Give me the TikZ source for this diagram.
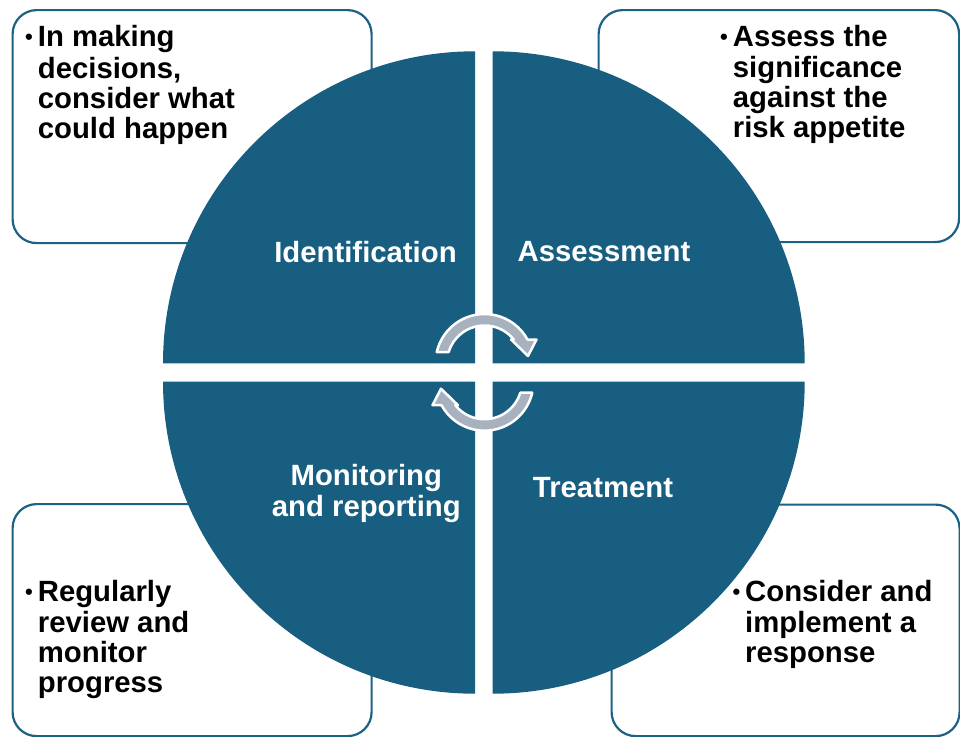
\documentclass[tikz,border=0pt]{standalone}
\usepackage{fontspec}
\setmainfont{Liberation Sans}
\definecolor{quad}{RGB}{23,94,128}
\definecolor{edge}{RGB}{28,98,132}
\definecolor{arrowgray}{RGB}{168,178,190}
\newcommand\bul{\llap{\raisebox{2pt}{\fontsize{22}{30}\selectfont\textbullet}\hspace{5pt}}}

\begin{document}
\begin{tikzpicture}[x=1pt,y=-1pt,
  panel/.style={draw=edge, line width=2.2pt, rounded corners=24pt, inner sep=0pt, anchor=north west},
  quarter/.style={fill=quad},
  note/.style={anchor=north west, inner sep=0pt, align=left, text=black,
    font=\bfseries\fontsize{29.3}{30}\selectfont},
  stage/.style={anchor=north, inner sep=0pt, align=center, text=white,
    font=\bfseries\fontsize{29.3}{30}\selectfont},
  cyclearrow/.style={fill=arrowgray, draw=white, line width=2.5pt, line join=round}]

% page frame
\fill[white] (0,0) rectangle (960,736);
\useasboundingbox (0,0) rectangle (960,736);

% outlined note panels in the four corners
\node[panel, minimum width=359pt, minimum height=233pt] (idpanel) at (11.5,9) {};
\node[panel, minimum width=360.5pt, minimum height=232pt] (aspanel) at (597.5,9) {};
\node[panel, minimum width=359pt, minimum height=232pt] (mopanel) at (11.5,503) {};
\node[panel, minimum width=348pt, minimum height=231.5pt] (trpanel) at (610.5,503.5) {};

% four quarter discs of the cycle
\fill[quarter] (475,363.3) -- (163,363.3) arc[start angle=180, end angle=270, radius=312] -- cycle;
\fill[quarter] (492.7,363.3) -- (804.7,363.3) arc[start angle=0, end angle=-90, radius=312] -- cycle;
\fill[quarter] (475,381.7) -- (163,381.7) arc[start angle=180, end angle=90, radius=312] -- cycle;
\fill[quarter] (492.7,381.7) -- (804.7,381.7) arc[start angle=0, end angle=90, radius=312] -- cycle;

% stage names
\node[stage] (ident) at (365.5,240.7) {\strut Identification};
\node[stage] (assess) at (604,240.7) {\strut Assessment};
\node[stage] (monitor) at (366.3,464) {\strut Monitoring\\and reporting};
\node[stage] (treat) at (603,476.3) {\strut Treatment};

% notes
\node[note] (idnote) at (37.7,25.5) {\strut\bul In making\\decisions,\\consider what\\could happen};
\node[note] (asnote) at (732.7,24.7) {\strut\bul Assess the\\significance\\against the\\risk appetite};
\node[note] (monote) at (37.7,580) {\strut\bul Regularly\\review and\\monitor\\progress};
\node[note] (trnote) at (745,579.7) {\strut\bul Consider and\\implement a\\response};

% circular arrows in the middle
\begin{scope}[shift={(484.5,363)}, yscale=-1]
  \draw[cyclearrow] (167.03:49) arc[start angle=167.03, end angle=28.66, radius=49]
    -- (52,23.5) -- (43.5,7) -- (26.5,23.5) -- (38.8:37.5)
    arc[start angle=38.8, end angle=162.94, radius=37.5] -- cycle;
\end{scope}
\begin{scope}[shift={(484.5,381.7)}, yscale=-1, rotate=180]
  \draw[cyclearrow] (167.03:49) arc[start angle=167.03, end angle=28.66, radius=49]
    -- (52,23.5) -- (43.5,7) -- (26.5,23.5) -- (38.8:37.5)
    arc[start angle=38.8, end angle=162.94, radius=37.5] -- cycle;
\end{scope}
\end{tikzpicture}
\end{document}
